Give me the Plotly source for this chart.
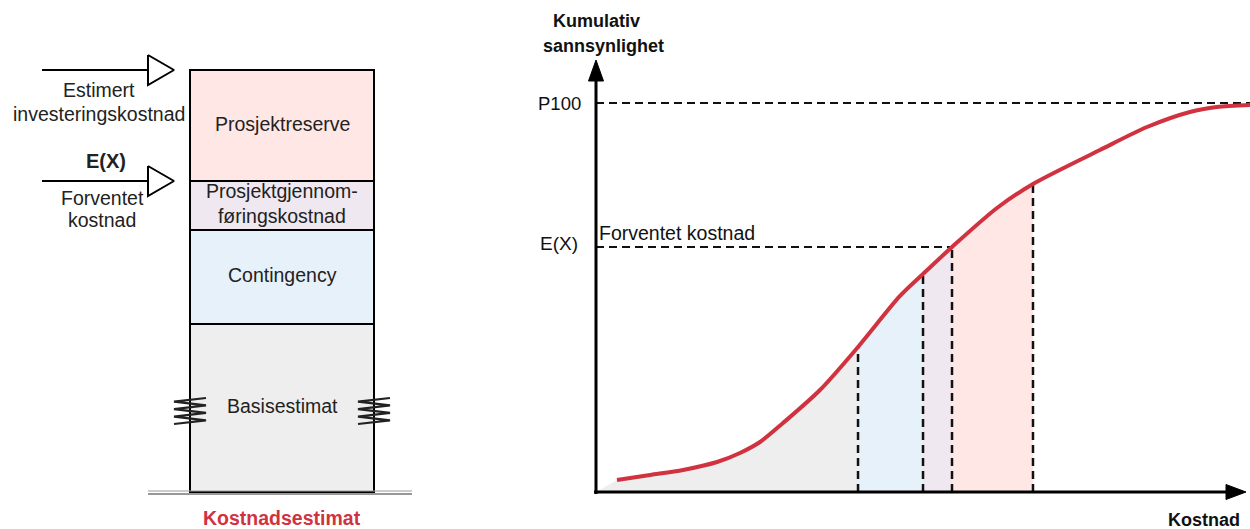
import numpy as np
import plotly.graph_objects as go

W, H = 1250, 529
FONT = "Liberation Sans"
RED = "#D1323F"

# ---------------- Left: cost estimate stack (bottom -> top) ----------------
comp_names = ["Basisestimat", "Contingency", "Prosjektgjennom-<br>føringskostnad", "Prosjektreserve"]
comp_values = [168, 94, 49, 111]
comp_colors = ["#EEEEEE", "#E7F1FA", "#EFE8F0", "#FFE7E6"]
stack_label = "Kostnadsestimat"

# ---------------- Right: cumulative probability curve ----------------
cost = [3.23, 8.31, 13.38, 18.62, 22.15, 25.23, 28.77, 34.46, 40.31, 46.77, 50.31, 54.77, 61.69, 67.23,
        77.54, 84.77, 91.38, 95.54, 100.62]
prob = [3.08, 4.37, 5.66, 7.71, 10.03, 12.85, 17.74, 26.22, 37.28, 50.39, 56.04, 62.98, 73.01, 79.18,
        87.92, 93.83, 97.69, 98.97, 99.49]
band_bounds = [0.0, 40.31, 50.31, 54.77, 67.23]   # basis | contingency | gjennomføring | reserve
band_colors = ["#EEEEEE", "#E7F1FA", "#EFE8F0", "#FFE7E6"]
ex_cost = 54.77
p100 = 100

# ---------------- geometry of the two panels ----------------
L_BASE = 492
BAR_X, BAR_W = 282, 184
OX, OY, SX, SY = 596, 492, 6.5, 3.89

fig = go.Figure()

for name, v, c in zip(comp_names, comp_values, comp_colors):
    fig.add_trace(go.Bar(x=[BAR_X], y=[v], width=BAR_W, marker=dict(color=c, line=dict(color="black", width=2)),
                         xaxis="x2", yaxis="y2", showlegend=False, hoverinfo="skip"))

cum = np.cumsum([0] + comp_values)
left_edge = BAR_X - BAR_W / 2
right_edge = BAR_X + BAR_W / 2

for i, name in enumerate(comp_names):
    fig.add_annotation(x=BAR_X, y=(cum[i] + cum[i + 1]) / 2 + 2, xref="x2", yref="y2", text=name,
                       showarrow=False, font=dict(family=FONT, size=19.5, color="#222"))

gl_x = [left_edge - 42, right_edge + 38]
fig.add_trace(go.Scatter(x=gl_x, y=[1, 1], xaxis="x2", yaxis="y2", mode="lines",
                         line=dict(color="#9a9a9a", width=1), showlegend=False, hoverinfo="skip"))
fig.add_trace(go.Scatter(x=gl_x, y=[-2, -2], xaxis="x2", yaxis="y2", mode="lines",
                         line=dict(color="#333", width=1), showlegend=False, hoverinfo="skip"))

# zig-zag break marks (tips alternate right/left)
zz_y = np.linspace(94, 68, 8)
for ex in (left_edge, right_edge):
    zx = [ex + 16 if k % 2 == 0 else ex - 16 for k in range(len(zz_y))]
    fig.add_trace(go.Scatter(x=zx, y=zz_y, xaxis="x2", yaxis="y2", mode="lines",
                             line=dict(color="#222", width=2.2), showlegend=False, hoverinfo="skip"))

for lvl in (cum[4], cum[3]):
    fig.add_trace(go.Scatter(x=[left_edge - 148, left_edge - 42], y=[lvl, lvl], xaxis="x2", yaxis="y2",
                             mode="lines", line=dict(color="black", width=2), showlegend=False, hoverinfo="skip"))
    fig.add_trace(go.Scatter(x=[left_edge - 42, left_edge - 16, left_edge - 42, left_edge - 42],
                             y=[lvl + 15, lvl, lvl - 15, lvl + 15], xaxis="x2", yaxis="y2", mode="lines",
                             fill="toself", fillcolor="white", line=dict(color="black", width=2),
                             showlegend=False, hoverinfo="skip"))

def lab(x, py, text, size=19.5, bold=False, color="#222", xanchor="center"):
    t = f"<b>{text}</b>" if bold else text
    fig.add_annotation(x=x, y=L_BASE - py, xref="x2", yref="y2", text=t, showarrow=False, xanchor=xanchor,
                       font=dict(family=FONT, size=size, color=color))

lab(99, 90, "Estimert")
lab(99, 114, "investeringskostnad")
lab(106, 161, "E(X)", size=20, bold=True)
lab(102, 198, "Forventet")
lab(102, 220, "kostnad")
lab(BAR_X, 518, stack_label, size=19.5, bold=True, color=RED)

# ---------------- right panel ----------------
cost_a = np.array(cost)
prob_a = np.array(prob)

def curve_at(c):
    return float(np.interp(c, cost_a, prob_a))

# small wedge between origin and curve start
fig.add_trace(go.Scatter(x=[0, cost[0], cost[0], 0], y=[0, prob[0], 0, 0], mode="lines", fill="toself",
                         fillcolor=band_colors[0], line=dict(width=0, color=band_colors[0]),
                         showlegend=False, hoverinfo="skip"))
for i, col in enumerate(band_colors):
    lo, hi = max(band_bounds[i], cost[0]), band_bounds[i + 1]
    inner = [(c, p) for c, p in zip(cost, prob) if lo < c < hi]
    xs = [lo] + [c for c, _ in inner] + [hi]
    ys = [curve_at(lo)] + [p for _, p in inner] + [curve_at(hi)]
    fig.add_trace(go.Scatter(x=xs, y=ys, mode="lines", fill="tozeroy", fillcolor=col,
                             line=dict(width=0, color=col, shape="spline", smoothing=0.8),
                             showlegend=False, hoverinfo="skip"))

ex_prob = curve_at(ex_cost)
DASH = "8px,5px"
for b in band_bounds[1:]:
    fig.add_trace(go.Scatter(x=[b, b], y=[0, curve_at(b)], mode="lines",
                             line=dict(color="#111", width=2.5, dash=DASH), showlegend=False, hoverinfo="skip"))
fig.add_trace(go.Scatter(x=[0, ex_cost], y=[ex_prob, ex_prob], mode="lines",
                         line=dict(color="#111", width=2, dash=DASH), showlegend=False, hoverinfo="skip"))
x_max = (W - OX) / SX
fig.add_trace(go.Scatter(x=[0, x_max], y=[p100, p100], mode="lines",
                         line=dict(color="#111", width=2, dash=DASH), showlegend=False, hoverinfo="skip"))

fig.add_trace(go.Scatter(x=cost, y=prob, mode="lines", line=dict(color=RED, width=4, shape="spline", smoothing=0.8),
                         showlegend=False, hoverinfo="skip"))

y_tip = (OY - 60) / SY
x_tip = (1246 - OX) / SX
fig.add_trace(go.Scatter(x=[0, 0], y=[-0.5, y_tip - 18 / SY], mode="lines", line=dict(color="black", width=3),
                         showlegend=False, hoverinfo="skip"))
fig.add_trace(go.Scatter(x=[-0.3, x_tip - 18 / SX], y=[0, 0], mode="lines", line=dict(color="black", width=3),
                         showlegend=False, hoverinfo="skip"))
fig.add_trace(go.Scatter(x=[-7.5 / SX, 0, 7.5 / SX, -7.5 / SX], y=[y_tip - 21 / SY, y_tip, y_tip - 21 / SY, y_tip - 21 / SY],
                         mode="lines", fill="toself", fillcolor="black", line=dict(color="black", width=1),
                         showlegend=False, hoverinfo="skip"))
fig.add_trace(go.Scatter(x=[x_tip - 20 / SX, x_tip, x_tip - 20 / SX, x_tip - 20 / SX], y=[7.5 / SY, 0, -7.5 / SY, 7.5 / SY],
                         mode="lines", fill="toself", fillcolor="black", line=dict(color="black", width=1),
                         showlegend=False, hoverinfo="skip"))

def rlab(px, py, text, size=19, bold=False, xanchor="center"):
    t = f"<b>{text}</b>" if bold else text
    fig.add_annotation(x=(px - OX) / SX, y=(OY - py) / SY, xref="x", yref="y", text=t, showarrow=False,
                       xanchor=xanchor, font=dict(family=FONT, size=size, color="#111"))

rlab(596, 21, "Kumulativ", size=18, bold=True)
rlab(603, 46, "sannsynlighet", size=18, bold=True)
rlab(583, 103, "P100", size=18.5, xanchor="right")
rlab(580, 243, "E(X)", size=19, xanchor="right")
rlab(597, 233, "Forventet kostnad", size=19.5, xanchor="left")
rlab(1204, 520, "Kostnad", size=18, bold=True)

fig.update_layout(
    width=W, height=H, margin=dict(l=0, r=0, t=0, b=0),
    paper_bgcolor="white", plot_bgcolor="rgba(0,0,0,0)", barmode="stack", showlegend=False,
    xaxis=dict(domain=[0, 1], range=[-OX / SX, (W - OX) / SX], visible=False, fixedrange=True),
    yaxis=dict(domain=[0, 1], range=[-(H - OY) / SY, OY / SY], visible=False, fixedrange=True),
    xaxis2=dict(domain=[0, 0.4], range=[0, 500], visible=False, anchor="y2", fixedrange=True),
    yaxis2=dict(domain=[0, 1], range=[-(H - L_BASE), L_BASE], visible=False, anchor="x2", fixedrange=True),
)

fig.write_html("out.html", config={"displayModeBar": False},
               post_script="document.body.style.margin='0px';document.body.style.overflow='hidden';")
